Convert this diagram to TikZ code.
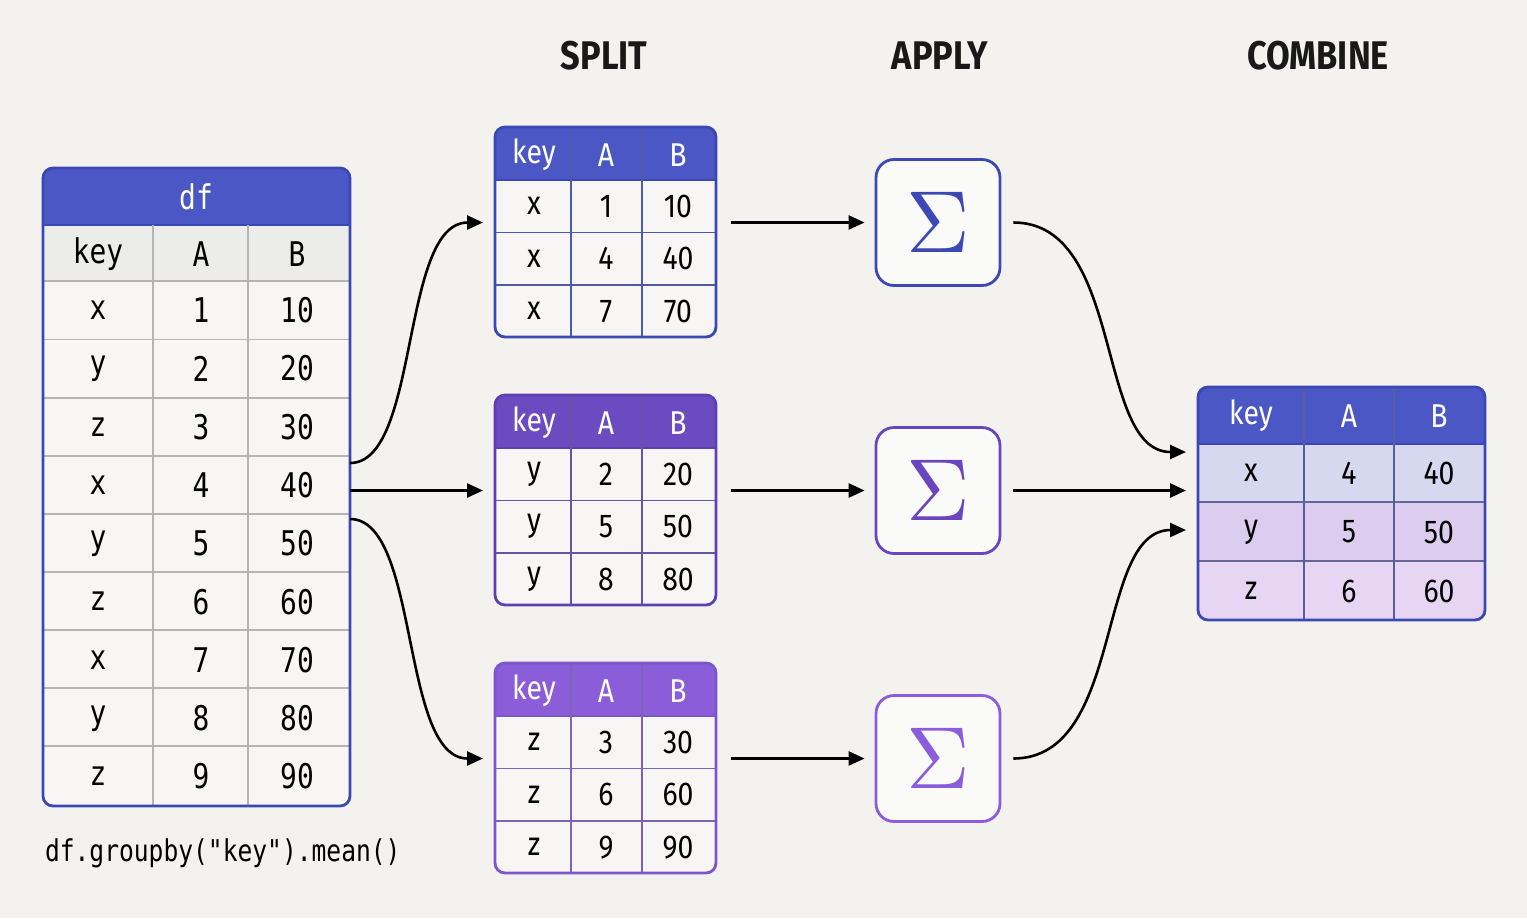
\documentclass[tikz,border=0pt]{standalone}
\usepackage{fontspec}
\usetikzlibrary{calc,arrows.meta}
\setmainfont{Fira Sans}[FakeStretch=0.86]
\newfontfamily\dfmono{DejaVu Sans Mono}[FakeStretch=0.82]
\definecolor{bg}{HTML}{F3F2EF}
\definecolor{cellbg}{HTML}{F7F6F4}
\definecolor{keybg}{HTML}{ECECEA}
\definecolor{cA}{HTML}{4B57C4}
\definecolor{bA}{HTML}{3B48B3}
\definecolor{cB}{HTML}{6B4BC0}
\definecolor{bB}{HTML}{5E40B3}
\definecolor{cC}{HTML}{8B5DD8}
\definecolor{bC}{HTML}{7D55CC}
\definecolor{sA}{HTML}{3C49B5}
\definecolor{sB}{HTML}{6A45C0}
\definecolor{sC}{HTML}{8B5CDB}
\definecolor{rA}{HTML}{D5D8EF}
\definecolor{rB}{HTML}{DCCDEE}
\definecolor{rC}{HTML}{E7D5F4}
\definecolor{gridc}{HTML}{B5B5B5}
\tikzset{
  arr/.style={line width=1.3pt,-{Triangle[length=8pt,width=7pt]}},
  frame/.style={draw=#1,line width=1.4pt,rounded corners=5pt},
  sig/.style={draw=#1,line width=1.4pt,rounded corners=9pt,fill=white!60!bg,
    minimum width=62pt,minimum height=63pt,inner sep=0pt,text=#1},
  cell/.style={font=\fontsize{16.5}{16.5}\selectfont},
  hcell/.style={font=\fontsize{16.5}{16.5}\selectfont,text=white},
  dcell/.style={font=\dfmono\fontsize{17}{17}\selectfont},
  ttl/.style={font=\bfseries\fontsize{20}{20}\selectfont,text=black!90}
}
\newcommand\bigsig{\raisebox{-1pt}{\scalebox{4.4}{$\Sigma$}}}
\newcommand\splittab[5]{% name, ytop, header col, border col, rows
  \node[inner sep=0pt,minimum width=110.5pt,minimum height=105pt,anchor=north west] (#1) at (495,#2) {};
  \begin{scope}
    \clip[rounded corners=5pt] (495,#2) rectangle (716,{#2+210});
    \fill[cellbg] (495,#2) rectangle (716,{#2+210});
    \fill[#3] (495,#2) rectangle (716,{#2+53});
    \draw[#4,line width=1pt] (495,{#2+53}) -- (716,{#2+53});
    \foreach \yy in {105.5,158} \draw[#4!70!gray,line width=0.8pt] (495,{#2+\yy}) -- (716,{#2+\yy});
    \draw[#4!70!gray,line width=0.8pt] (571,#2) -- (571,{#2+210}) (642,#2) -- (642,{#2+210});
  \end{scope}
  \draw[frame=#4] (495,#2) rectangle (716,{#2+210});
  \node[hcell] at (534,{#2+28}) {key};
  \node[hcell] at (606,{#2+28}) {A};
  \node[hcell] at (678,{#2+28}) {B};
  \foreach \k/\a/\b [count=\i] in {#5} {
    \pgfmathsetmacro\yc{#2+53+52.5*(\i-0.5)}
    \node[cell] at (534,\yc) {\k};
    \node[cell] at (606,\yc) {\a};
    \node[cell] at (678,\yc) {\b};
  }
}
\begin{document}
\begin{tikzpicture}[x=0.5pt,y=-0.5pt]
\fill[bg] (0,0) rectangle (1527,918);
\useasboundingbox (0,0) rectangle (1527,918);
% titles
\node[ttl] (tsplit) at (604,56) {SPLIT};
\node[ttl] (tapply) at (940,56) {APPLY};
\node[ttl] (tcomb) at (1318,56) {COMBINE};
% df table
\node[inner sep=0pt,minimum width=153.5pt,minimum height=319pt,anchor=north west] (df) at (43,168) {};
\begin{scope}
  \clip[rounded corners=5pt] (43,168) rectangle (350,806);
  \fill[cellbg] (43,168) rectangle (350,806);
  \fill[keybg] (43,225) rectangle (350,281);
  \fill[cA] (43,168) rectangle (350,225);
  \draw[bA,line width=1pt] (43,225) -- (350,225);
  \foreach \yy in {281,339.5,398,456,514,572,630,688,746}
    \draw[gridc,line width=0.8pt] (43,\yy) -- (350,\yy);
  \draw[gridc,line width=0.8pt] (153,225) -- (153,806) (248,225) -- (248,806);
\end{scope}
\draw[frame=bA] (43,168) rectangle (350,806);
\node[dcell,text=white] at (196,197) {df};
\node[dcell] at (98,254) {key};
\node[dcell] at (201,254) {A};
\node[dcell] at (297,254) {B};
\foreach \k/\a/\b [count=\i] in {x/1/10,y/2/20,z/3/30,x/4/40,y/5/50,z/6/60,x/7/70,y/8/80,z/9/90} {
  \pgfmathsetmacro\yc{281+58.3*(\i-0.5)}
  \node[dcell] at (98,\yc) {\k};
  \node[dcell] at (201,\yc) {\a};
  \node[dcell] at (297,\yc) {\b};
}
\node[dcell,anchor=west,font=\dfmono\fontsize{15}{15}\selectfont] (code) at (38,853) {df.groupby("key").mean()};
% split tables
\splittab{t1}{127}{cA}{bA}{x/1/10,x/4/40,x/7/70}
\splittab{t2}{395}{cB}{bB}{y/2/20,y/5/50,y/8/80}
\splittab{t3}{663}{cC}{bC}{z/3/30,z/6/60,z/9/90}
% sigma boxes
\node[sig=sA] (s1) at (938,222.5) {\bigsig};
\node[sig=sB] (s2) at (938,490.5) {\bigsig};
\node[sig=sC] (s3) at (938,758.5) {\bigsig};
% combine table
\node[inner sep=0pt,minimum width=143.5pt,minimum height=116.5pt,anchor=north west] (cb) at (1198,387) {};
\begin{scope}
  \clip[rounded corners=5pt] (1198,387) rectangle (1485,620);
  \fill[rA] (1198,444) rectangle (1485,502);
  \fill[rB] (1198,502) rectangle (1485,561);
  \fill[rC] (1198,561) rectangle (1485,620);
  \fill[cA] (1198,387) rectangle (1485,444);
  \draw[bA,line width=1pt] (1198,444) -- (1485,444);
  \draw[gray!80!blue,line width=0.8pt] (1198,502) -- (1485,502) (1198,561) -- (1485,561);
  \draw[bA!60!gray,line width=0.8pt] (1304,387) -- (1304,620) (1394,387) -- (1394,620);
\end{scope}
\draw[frame=bA] (1198,387) rectangle (1485,620);
\node[hcell] at (1251,416) {key};
\node[hcell] at (1349,416) {A};
\node[hcell] at (1439,416) {B};
\foreach \k/\a/\b/\yc in {x/4/40/473,y/5/50/532,z/6/60/591} {
  \node[cell] at (1251,\yc) {\k};
  \node[cell] at (1349,\yc) {\a};
  \node[cell] at (1439,\yc) {\b};
}
% connectors: df -> split
\coordinate (d1) at (350,463);
\coordinate (d2) at (350,490.5);
\coordinate (d3) at (350,519);
\coordinate (e1) at ($(t1.west |- s1)+(-6pt,0)$);
\coordinate (e2) at ($(t2.west |- s2)+(-6pt,0)$);
\coordinate (e3) at ($(t3.west |- s3)+(-6pt,0)$);
\draw[arr] (d1) .. controls (420,463) and (400,222.5) .. (e1);
\draw[arr] (d2) -- (e2);
\draw[arr] (d3) .. controls (420,519) and (400,758.5) .. (e3);
% split -> apply
\draw[arr] ($(t1.east |- s1)+(7pt,0)$) -- ($(s1.west)+(-5pt,0)$);
\draw[arr] ($(t2.east |- s2)+(7pt,0)$) -- ($(s2.west)+(-5pt,0)$);
\draw[arr] ($(t3.east |- s3)+(7pt,0)$) -- ($(s3.west)+(-5pt,0)$);
% apply -> combine
\coordinate (c1) at (1186,452);
\coordinate (c3) at (1186,530);
\draw[arr] ($(s1.east)+(6pt,0)$) .. controls (1125,222.5) and (1095,452) .. (c1);
\draw[arr] ($(s2.east)+(6pt,0)$) -- ($(cb.west |- s2)+(-6pt,0)$);
\draw[arr] ($(s3.east)+(6pt,0)$) .. controls (1125,758.5) and (1095,530) .. (c3);
\end{tikzpicture}
\end{document}
